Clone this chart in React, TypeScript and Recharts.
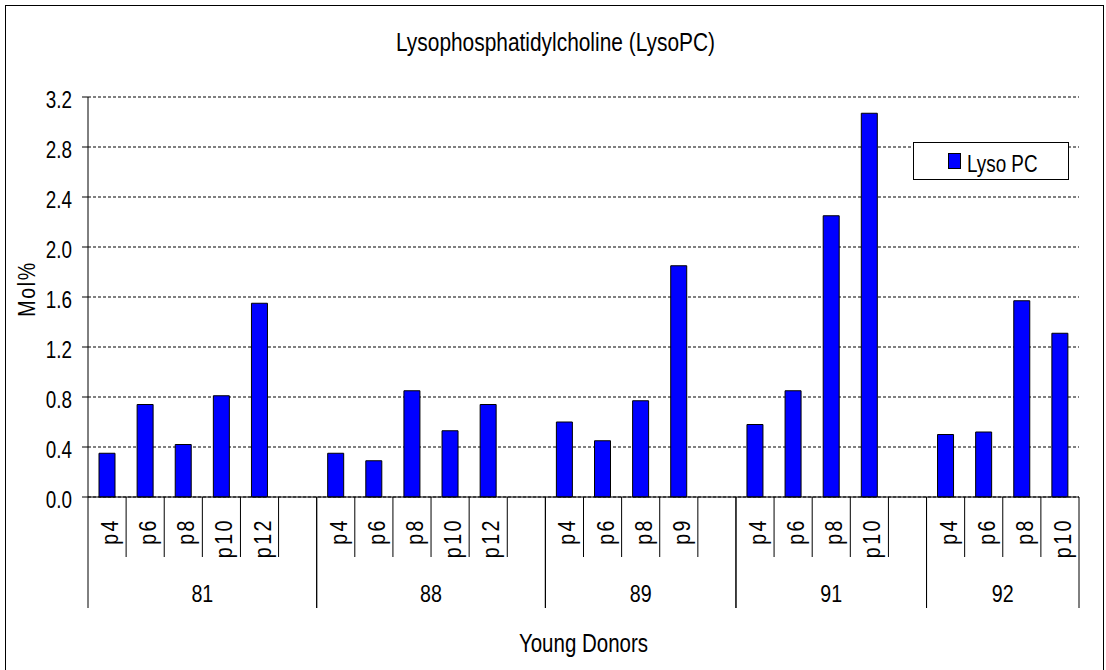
import React from 'react';
import { BarChart, Bar, XAxis, YAxis, CartesianGrid, Legend } from 'recharts';

// donor groups and their passages, in chart order
const donors = ['81', '88', '89', '91', '92'];
const passages = [
  ['p4', 'p6', 'p8', 'p10', 'p12'],
  ['p4', 'p6', 'p8', 'p10', 'p12'],
  ['p4', 'p6', 'p8', 'p9'],
  ['p4', 'p6', 'p8', 'p10'],
  ['p4', 'p6', 'p8', 'p10'],
];
// Lyso PC, Mol%
const lysoPC = [
  [0.35, 0.74, 0.42, 0.81, 1.55],
  [0.35, 0.29, 0.85, 0.53, 0.74],
  [0.6, 0.45, 0.77, 1.85],
  [0.58, 0.85, 2.25, 3.07],
  [0.5, 0.52, 1.57, 1.31],
];
const yTicks = [0, 0.4, 0.8, 1.2, 1.6, 2.0, 2.4, 2.8, 3.2];

type Row = {
  key: string;
  donor: string;
  passage: string;
  value: number | null;
  first: boolean;
  last: boolean;
  groupSize: number;
};

// one empty category after every donor except the last one (like the excel sheet)
const rows: Row[] = [];
donors.forEach((d, gi) => {
  const ps = passages[gi];
  const withGap = gi < donors.length - 1;
  const size = ps.length + (withGap ? 1 : 0);
  ps.forEach((p, i) =>
    rows.push({
      key: `${d}-${p}`,
      donor: d,
      passage: p,
      value: lysoPC[gi][i],
      first: i === 0,
      last: !withGap && i === ps.length - 1,
      groupSize: size,
    })
  );
  if (withGap) {
    rows.push({ key: `${d}-gap`, donor: d, passage: '', value: null, first: false, last: true, groupSize: size });
  }
});

const W = 1106;
const H = 670;
const PLOT_LEFT = 88;
const PLOT_RIGHT = 1079;
const PLOT_TOP = 97;
const PLOT_BOTTOM = 497;
const bw = (PLOT_RIGHT - PLOT_LEFT) / rows.length;

// no narrow font installed -> squeeze Liberation Sans horizontally
const FONT = "'Liberation Sans', Arial, sans-serif";
const SQUEEZE = 0.82;

const NText = ({ x, y, size, anchor = 'start', rotate = 0, dy = 0, spacing = 0, children }: any) => (
  <text
    transform={`translate(${x}, ${y}) rotate(${rotate}) scale(${SQUEEZE}, 1)`}
    x={0}
    y={0}
    dy={dy}
    textAnchor={anchor}
    fontSize={size}
    fontFamily={FONT}
    letterSpacing={spacing}
    fill="#000"
  >
    {children}
  </text>
);

const XTick = (props: any) => {
  const { x, y, payload } = props;
  const row = rows[payload.index];
  if (!row) return null;
  const half = bw / 2;
  return (
    <g>
      {row.first && <line x1={x - half} x2={x - half} y1={y} y2={y + 111} stroke="#000" />}
      <line x1={x + half} x2={x + half} y1={y} y2={y + (row.last ? 111 : 60)} stroke="#000" />
      {row.passage && (
        <NText x={x} y={y + 21} rotate={-90} dy={11} anchor="end" size={24} spacing={3}>
          {row.passage}
        </NText>
      )}
      {row.first && (
        <NText x={x - half + row.groupSize * half} y={y + 105} anchor="middle" size={24}>
          {row.donor}
        </NText>
      )}
    </g>
  );
};

const YTick = ({ x, y, payload }: any) => (
  <NText x={x} y={y} dy={11} anchor="end" size={23}>
    {Number(payload.value).toFixed(1)}
  </NText>
);

const LegendBox = () => (
  <svg width={156} height={38}>
    <rect x={0.5} y={0.5} width={155} height={37} fill="#fff" stroke="#000" />
    <rect x={35.5} y={11.5} width={12} height={15} fill="#0000ff" stroke="#000" />
    <NText x={54} y={30} size={23}>
      Lyso PC
    </NText>
  </svg>
);

export default function App() {
  return (
    <div style={{ position: 'relative', width: W, height: H, overflow: 'hidden', background: '#fff' }}>
      <style>{'body{margin:0}'}</style>
      <BarChart width={W} height={H} data={rows} margin={{ top: PLOT_TOP, right: W - PLOT_RIGHT, bottom: 0, left: 0 }}>
        <CartesianGrid vertical={false} stroke="#000" strokeDasharray="3 2" />
        <XAxis
          dataKey="key"
          interval={0}
          height={H - PLOT_BOTTOM}
          tickLine={false}
          tickSize={0}
          tickMargin={0}
          axisLine={{ stroke: '#000' }}
          tick={XTick}
          label={{
            content: () => (
              <NText x={(PLOT_LEFT + PLOT_RIGHT) / 2} y={652} anchor="middle" size={25}>
                Young Donors
              </NText>
            ),
          }}
        />
        <XAxis xAxisId="top" dataKey="key" orientation="top" height={0} tick={false} tickLine={false} axisLine={{ stroke: '#999' }} />
        <YAxis
          width={PLOT_LEFT}
          domain={[0, 3.2]}
          ticks={yTicks}
          interval={0}
          tickSize={6}
          tickMargin={10}
          tickLine={{ stroke: '#000' }}
          axisLine={{ stroke: '#000' }}
          tick={YTick}
          label={{
            content: () => (
              <NText x={35} y={289} rotate={-90} anchor="middle" size={24} spacing={2}>
                Mol%
              </NText>
            ),
          }}
        />
        <YAxis yAxisId="right" orientation="right" width={0} domain={[0, 3.2]} tick={false} tickLine={false} axisLine={{ stroke: '#999' }} />
        <Legend
          layout="horizontal"
          verticalAlign="middle"
          align="center"
          content={LegendBox}
          wrapperStyle={{ position: 'absolute', left: 913, top: 142, width: 156, height: 38 }}
        />
        <Bar dataKey="value" name="Lyso PC" fill="#0000ff" stroke="#000" strokeWidth={1} barSize={16} isAnimationActive={false} />
      </BarChart>
      <svg width={W} height={H} style={{ position: 'absolute', left: 0, top: 0, pointerEvents: 'none' }}>
        <rect x={5.5} y={5.5} width={1098} height={700} fill="none" stroke="#000" />
        <NText x={555.5} y={50.5} anchor="middle" size={25.5}>
          Lysophosphatidylcholine (LysoPC)
        </NText>
      </svg>
    </div>
  );
}
